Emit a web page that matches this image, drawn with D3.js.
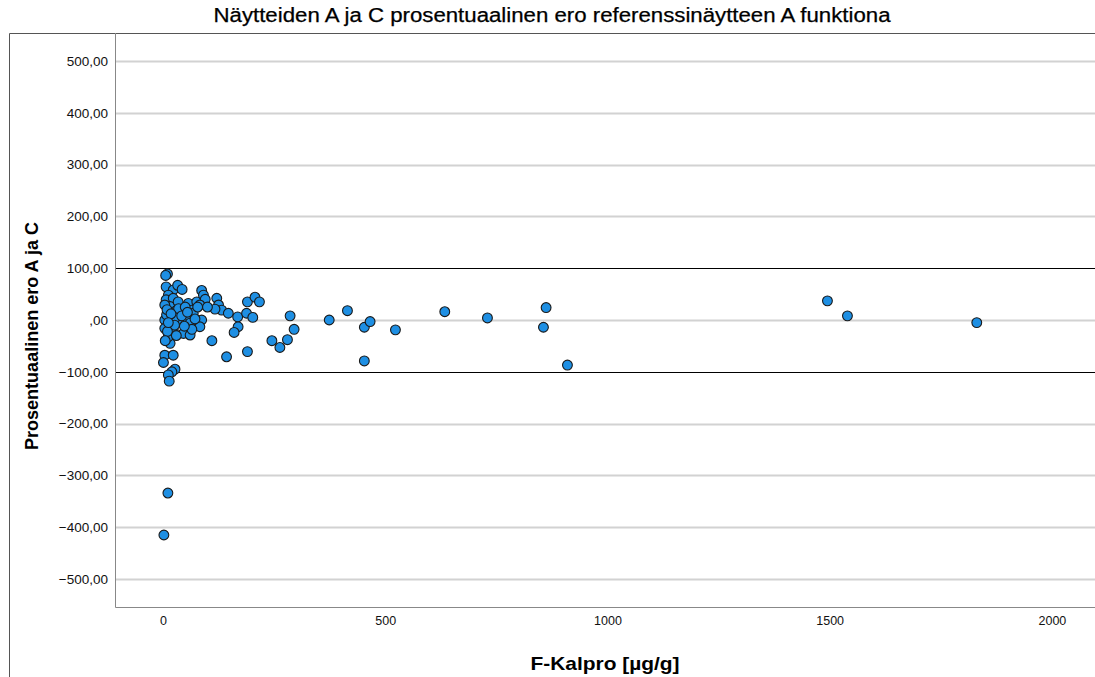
<!DOCTYPE html>
<meta charset="utf-8">
<style>
  body { margin: 0; background: #fff; }
  text { font-family: 'Liberation Sans', Arial, sans-serif; }
</style>
<svg width="1095" height="677"></svg>
<script src="https://cdn.jsdelivr.net/npm/d3@7"></script>
<script>
// F-Kalpro [µg/g] and the percentage difference A vs C
var kalpro = [10, 6, 7, 23, 33, 43, 12, 7, 23, 16, 4, 34, 31, 57, 65, 76, 87, 91, 95, 83,
  121, 125, 132, 117, 147, 46, 4, 16, 38, 53, 68, 87, 4, 23, 46, 61, 83, 61, 16, 12,
  110, 143, 4, 23, 1, 27, 20, 12, 14, 190, 207, 217, 168, 188, 202, 169, 160, 286, 295, 245,
  263, 280, 190, 374, 415, 453, 466, 453, 523, 634, 730, 862, 856, 910, 1495, 1540, 1831, 11, 2,
  8, 28, 35, 50, 26, 10, 42, 55, 72, 9, 30, 18, 65, 100, 5, 48, 78, 12];
var ero = [89, 86, 64, 58, 67, 59, 48, 39, 42, 26, 29, 35, 19, 32, 19, 35, 57, 48, 40, 29,
  42, 29, 19, 21, 13, 13, 0, 0, -3, 0, 13, 0, -16, -19, -26, -29, -13, -6, -45, -32,
  -40, -71, -68, -68, -82, -95, -100, -106, -118, 35, 44, 35, 6, 13, 5, -13, -24, 8, -18, -40,
  -53, -38, -61, 0, 18, -14, -3, -79, -19, 16, 4, 24, -14, -87, 37, 8, -5, -334, -415,
  10, 5, 22, 25, -10, -22, 8, 15, 2, 20, -30, 12, -18, 25, -40, -12, 25, -5];

var yTicks = [-500, -400, -300, -200, -100, 0, 100, 200, 300, 400, 500];
var xTicks = [0, 500, 1000, 1500, 2000];
var refLines = [-100, 100];

var svg = d3.select("svg"),
    plot = {left: 115, right: 1095, top: 33, bottom: 607};

var x = d3.scaleLinear().domain([-108, 2097]).range([plot.left, plot.right]);
var y = d3.scaleLinear().domain([-554, 554]).range([plot.bottom, plot.top]);

var points = kalpro.map(function(d, i) { return {x: d, y: ero[i]}; });

// outer frame
svg.append("path")
    .attr("d", "M9.5,677V33.5H1095")
    .attr("fill", "none")
    .attr("stroke", "#555")
    .attr("stroke-width", 1);

// grid
svg.append("g")
  .selectAll("line")
  .data(yTicks.filter(function(t) { return refLines.indexOf(t) < 0; }))
  .enter().append("line")
    .attr("x1", plot.left).attr("x2", plot.right)
    .attr("y1", function(d) { return Math.round(y(d)) + 0.5; })
    .attr("y2", function(d) { return Math.round(y(d)) + 0.5; })
    .attr("stroke", "#d2d2d2")
    .attr("stroke-width", 2);

svg.append("g")
  .selectAll("line")
  .data(refLines)
  .enter().append("line")
    .attr("x1", plot.left).attr("x2", plot.right)
    .attr("y1", function(d) { return Math.round(y(d)) + 0.5; })
    .attr("y2", function(d) { return Math.round(y(d)) + 0.5; })
    .attr("stroke", "#000")
    .attr("stroke-width", 1);

// plot frame
svg.append("path")
    .attr("d", "M" + (plot.left + 0.5) + "," + plot.top + "V" + (plot.bottom + 0.5) + "H" + plot.right)
    .attr("fill", "none")
    .attr("stroke", "#888")
    .attr("stroke-width", 1);

// axes
var fmt = function(d) { return d === 0 ? ",00" : d3.format(".2f")(d).replace(".", ","); };

var yAxis = svg.append("g")
    .attr("transform", "translate(" + plot.left + ",0)")
    .call(d3.axisLeft(y).tickValues(yTicks).tickFormat(fmt).tickSize(0).tickPadding(7));
yAxis.select(".domain").remove();
yAxis.selectAll("text")
    .style("font-size", "13.5px")
    .attr("fill", "#111");

var xAxis = svg.append("g")
    .attr("transform", "translate(0," + plot.bottom + ")")
    .call(d3.axisBottom(x).tickValues(xTicks).tickFormat(d3.format("d")).tickSize(0).tickPadding(9));
xAxis.select(".domain").remove();
xAxis.selectAll("text")
    .style("font-size", "12.5px")
    .attr("fill", "#111");

// points
svg.append("g")
  .selectAll("circle")
  .data(points)
  .enter().append("circle")
    .attr("cx", function(d) { return x(d.x); })
    .attr("cy", function(d) { return y(d.y); })
    .attr("r", 4.9)
    .attr("fill", "#1e8fe3")
    .attr("stroke", "#1a1a1a")
    .attr("stroke-width", 1.1);

// titles
svg.append("text")
    .attr("x", 552)
    .attr("y", 22)
    .attr("text-anchor", "middle")
    .attr("textLength", 677)
    .attr("lengthAdjust", "spacingAndGlyphs")
    .style("font-size", "20px")
    .style("stroke", "#000")
    .style("stroke-width", 0.25)
    .text("Näytteiden A ja C prosentuaalinen ero referenssinäytteen A funktiona");

svg.append("text")
    .attr("x", (plot.left + plot.right) / 2)
    .attr("y", 670)
    .attr("text-anchor", "middle")
    .attr("textLength", 149)
    .attr("lengthAdjust", "spacingAndGlyphs")
    .style("font-size", "19px")
    .style("font-weight", "bold")
    .text("F-Kalpro [µg/g]");

svg.append("text")
    .attr("transform", "translate(38,336) rotate(-90)")
    .attr("text-anchor", "middle")
    .attr("textLength", 228)
    .attr("lengthAdjust", "spacingAndGlyphs")
    .style("font-size", "18px")
    .style("font-weight", "bold")
    .text("Prosentuaalinen ero A ja C");
</script>
